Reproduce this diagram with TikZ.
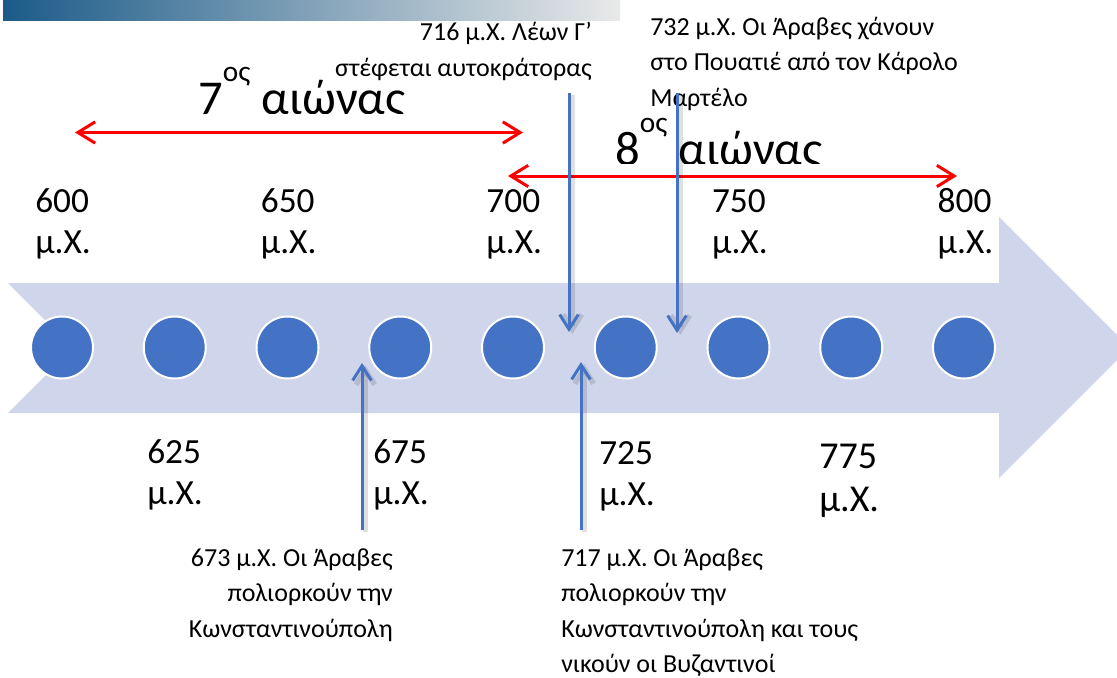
\documentclass[tikz,border=0pt]{standalone}
\usepackage{fontspec}
\setmainfont{Carlito}
\usepackage{tikz}
\usetikzlibrary{arrows.meta}
\definecolor{bandblue}{HTML}{CFD5EA}
\definecolor{dotblue}{HTML}{4472C4}
\definecolor{bardark}{HTML}{1B5B89}
\definecolor{barlight}{HTML}{E9E9E9}

\begin{document}
\begin{tikzpicture}[x=0.75pt,y=-0.75pt,
	dot/.style={circle,fill=dotblue,draw=white,line width=1.5pt,minimum size=46.5pt,inner sep=0pt},
	yearlbl/.style={align=left,inner sep=0pt,font=\fontsize{26.5}{30.75}\selectfont},
	century/.style={inner sep=0pt,font=\fontsize{36.5}{40}\selectfont},
	evtxt/.style={inner sep=0pt,font=\fontsize{19.5}{26.6}\selectfont},
	evarrow/.style={dotblue,line width=2.25pt,-{Straight Barb[length=11pt,width=14pt]},
		preaction={draw=black,opacity=0.12,line width=4pt,transform canvas={xshift=2.5pt,yshift=-1.5pt}}},
	redarrow/.style={red,line width=2.25pt,{Straight Barb[length=13pt,width=16pt]}-{Straight Barb[length=13pt,width=16pt]}}]
	\path[use as bounding box,clip] (0,0) rectangle (1117,678);
	
	%title bar
	\shade[left color=bardark,right color=barlight] (3,0) rectangle (620,20);
	
	%big arrow
	\fill[bandblue] (8,283) -- (999,283) -- (999,217) -- (1129.5,347.5) -- (999,478) -- (999,413) -- (8,413) -- (73,348) -- cycle;
	\foreach \i in {0,...,8}
	{\node[dot] (d\i) at ({62+112.75*\i},347.5) {};}
	
	%years (base = last line)
	\foreach \yr [count=\i from 0] in {600,650,700,750,800}
	{\node[yearlbl,anchor=base west] (y\yr) at ({35+225.6*\i},253) {\yr\\μ.Χ.};}
	\node[yearlbl,anchor=base west] (y625) at (147,504) {625\\μ.Χ.};
	\node[yearlbl,anchor=base west] (y675) at (373,504) {675\\μ.Χ.};
	\node[yearlbl,anchor=base west] (y725) at (599,505) {725\\μ.Χ.};
	\node[yearlbl,anchor=base west,font=\fontsize{28.5}{32}\selectfont] (y775) at (819,511) {775\\μ.Χ.};
	
	%centuries
	\begin{scope}
		\clip (0,0) rectangle (1117,113.5);
		\node[century,anchor=base west] (cent7) at (198,114) {7\raisebox{24.75pt}{\fontsize{22}{22}\selectfont ος} αιώνας};
	\end{scope}
	\begin{scope}
		\clip (0,0) rectangle (1117,163.5);
		\node[century,anchor=base west] (cent8) at (615,165) {8\raisebox{24.75pt}{\fontsize{22}{22}\selectfont ος} αιώνας};
	\end{scope}
	\coordinate (r7a) at (75,132.5);
	\coordinate (r7b) at (523,132.5);
	\coordinate (r8a) at (508,176);
	\coordinate (r8b) at (957,176);
	\draw[redarrow] (r7a) -- (r7b);
	\draw[redarrow] (r8a) -- (r8b);
	
	%events (base = last line)
	\node[evtxt,align=right,anchor=base east] (ev716) at (592,76) {716 μ.Χ. Λέων Γ’\\στέφεται αυτοκράτορας};
	\node[evtxt,align=left,anchor=base west] (ev732) at (650,106) {732 μ.Χ. Οι Άραβες χάνουν\\στο Πουατιέ από τον Κάρολο\\Μαρτέλο};
	\node[evtxt,align=right,anchor=base east] (ev673) at (393,637) {673 μ.Χ. Οι Άραβες\\πολιορκούν την\\Κωνσταντινούπολη};
	\node[evtxt,align=left,anchor=base west] (ev717) at (561,672.5) {717 μ.Χ. Οι Άραβες\\πολιορκούν την\\Κωνσταντινούπολη και τους\\νικούν οι Βυζαντινοί};
	
	%event arrows
	\coordinate (a716s) at (569,93);
	\coordinate (a716e) at (569,332);
	\coordinate (a732s) at (677,93);
	\coordinate (a732e) at (677,333);
	\coordinate (a673s) at (362,530);
	\coordinate (a673e) at (362,363);
	\coordinate (a717s) at (581,530);
	\coordinate (a717e) at (581,362);
	\draw[evarrow] (a716s) -- (a716e);
	\draw[evarrow] (a732s) -- (a732e);
	\draw[evarrow] (a673s) -- (a673e);
	\draw[evarrow] (a717s) -- (a717e);
\end{tikzpicture}
\end{document}
